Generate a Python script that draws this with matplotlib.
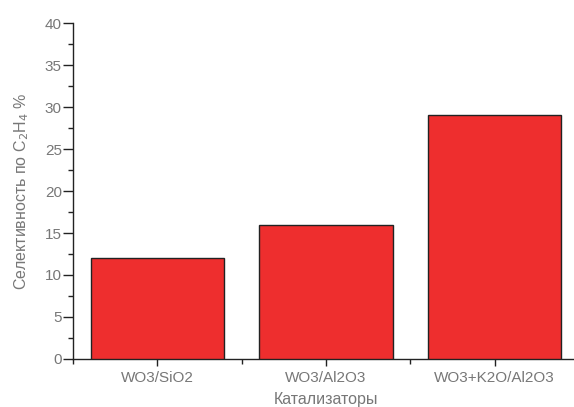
import matplotlib
matplotlib.use('Agg')
import matplotlib.pyplot as plt
from matplotlib.ticker import MultipleLocator, FixedLocator

plt.rcParams['font.family'] = ['Liberation Sans', 'DejaVu Sans']

# данные
catalysts = ['WO3/SiO2', 'WO3/Al2O3', 'WO3+K2O/Al2O3']
selectivity = [12, 16, 29]

fig = plt.figure(figsize=(5.74, 4.07), dpi=100)
ax = fig.add_axes([73/574, 1 - 359/407, 506/574, 336/407])

pos = list(range(1, len(catalysts) + 1))
ax.bar(pos, selectivity, width=0.79, color='#ee2e2e', edgecolor='#222222', linewidth=1.0, zorder=3)

ax.set_xlim(0.5, 3.5)
ax.set_ylim(0, 40)
ax.spines['top'].set_visible(False)
ax.spines['right'].set_visible(False)
for s in ('left', 'bottom'):
    ax.spines[s].set_linewidth(1.0)
    ax.spines[s].set_color('#222222')

ax.set_xticks(pos)
ax.set_xticklabels(catalysts)
ax.xaxis.set_minor_locator(FixedLocator([0.5, 1.5, 2.5]))
ax.yaxis.set_major_locator(MultipleLocator(5))
ax.yaxis.set_minor_locator(MultipleLocator(2.5))

ax.tick_params(axis='both', which='major', direction='out', width=1.0,
               labelsize=11, labelcolor='#777777', color='#222222')
ax.tick_params(axis='y', which='major', length=7, pad=1)
ax.tick_params(axis='x', which='major', length=5, pad=4)
ax.tick_params(axis='both', which='minor', direction='out', length=3.5, width=1.0, color='#222222')

ax.set_xlabel('Катализаторы', fontsize=11.5, color='#777777', labelpad=5)
ax.set_ylabel('Селективность по C$_2$H$_4$ %', fontsize=11.5, color='#777777', labelpad=10)

fig.savefig('out.png', dpi=100)
